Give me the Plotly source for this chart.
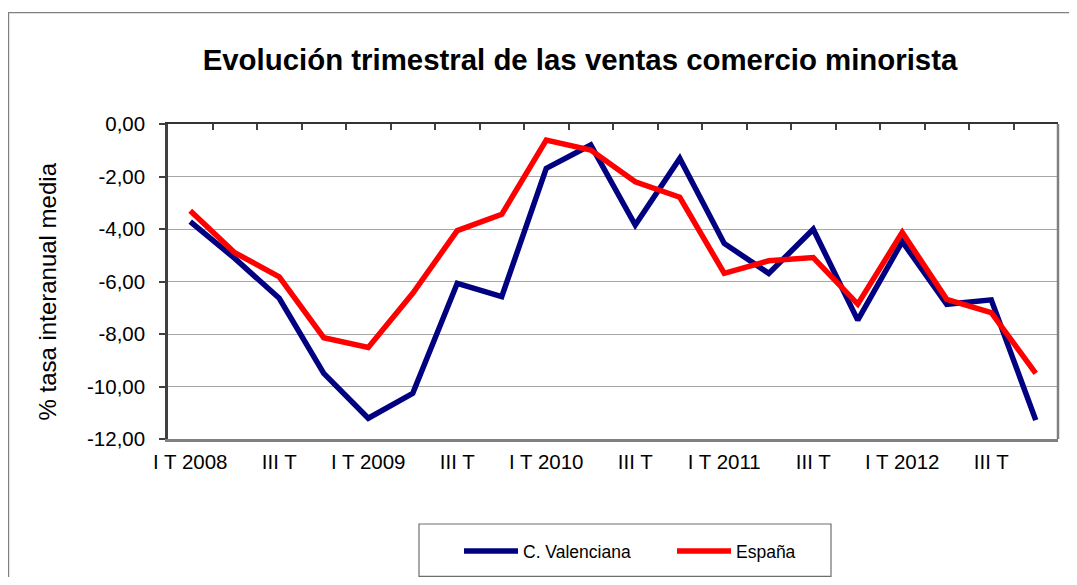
import plotly.graph_objects as go

quarters = ["I T 2008", "II T 2008", "III T 2008", "IV T 2008",
            "I T 2009", "II T 2009", "III T 2009", "IV T 2009",
            "I T 2010", "II T 2010", "III T 2010", "IV T 2010",
            "I T 2011", "II T 2011", "III T 2011", "IV T 2011",
            "I T 2012", "II T 2012", "III T 2012", "IV T 2012"]
tick_labels = ["I T 2008", "III T", "I T 2009", "III T", "I T 2010",
               "III T", "I T 2011", "III T", "I T 2012", "III T"]
y_ticks = [0, -2, -4, -6, -8, -10, -12]
y_tick_labels = ["0,00", "-2,00", "-4,00", "-6,00", "-8,00", "-10,00", "-12,00"]
valenciana = [-3.72, -5.12, -6.64, -9.50, -11.21, -10.26, -6.07, -6.58, -1.69, -0.80,
              -3.85, -1.31, -4.55, -5.69, -4.01, -7.47, -4.48, -6.87, -6.70, -11.28]
espana = [-3.30, -4.90, -5.82, -8.14, -8.51, -6.45, -4.06, -3.44, -0.61, -0.99,
          -2.20, -2.79, -5.69, -5.21, -5.09, -6.86, -4.13, -6.68, -7.19, -9.50]

xpos = list(range(len(quarters)))
font = "Liberation Sans, Arial, sans-serif"

W, H = 1061, 569          # page has 8px body margin
L, R, T, B = 160, 11, 116, 138
PW, PH = W - L - R, H - T - B   # 890 x 315

def px(xp):   # page x -> paper
    return (xp - 8 - L) / PW

def py(yp):   # page y -> paper
    return (H - B - (yp - 8)) / PH

fig = go.Figure()
fig.add_trace(go.Scatter(x=xpos, y=valenciana, mode="lines", name="C. Valenciana",
                         line=dict(color="#000080", width=5.5), text=quarters))
fig.add_trace(go.Scatter(x=xpos, y=espana, mode="lines", name="España",
                         line=dict(color="#ff0000", width=5.5), text=quarters))
# invisible trace for the top tick axis
fig.add_trace(go.Scatter(x=[xpos[0]], y=[espana[0]], xaxis="x2", mode="markers",
                         marker=dict(opacity=0), showlegend=False, hoverinfo="skip"))

xr = [-0.5, len(quarters) - 0.5]
fig.update_layout(
    width=W, height=H,
    margin=dict(l=L, r=R, t=T, b=B, autoexpand=False),
    paper_bgcolor="white", plot_bgcolor="white",
    font=dict(family=font, color="black"),
    showlegend=True,
    legend=dict(orientation="h", x=px(459), y=py(551), xanchor="left", yanchor="middle",
                font=dict(size=17.5, family=font), bgcolor="rgba(0,0,0,0)",
                itemwidth=54, entrywidth=144, entrywidthmode="pixels"),
    xaxis=dict(range=xr, tickmode="array", tickvals=xpos[::2], ticktext=tick_labels,
               ticks="", showgrid=False, zeroline=False, automargin=False,
               showline=True, linecolor="#808080", linewidth=2.5,
               tickfont=dict(size=20.5, family=font), ticklabelstandoff=3),
    xaxis2=dict(range=xr, overlaying="x", side="top", tickmode="array",
                tickvals=[v - 0.5 for v in xpos] + [xpos[-1] + 0.5],
                ticks="inside", ticklen=6, tickcolor="#404040", tickwidth=1.5,
                showticklabels=False, showgrid=False, zeroline=False, automargin=False,
                showline=True, linecolor="#333333", linewidth=2),
    yaxis=dict(range=[-12, 0], tickmode="array", tickvals=y_ticks, ticktext=y_tick_labels,
               showgrid=True, gridcolor="#a6a6a6", gridwidth=1, zeroline=False,
               showline=True, linecolor="#404040", linewidth=2.5, automargin=False,
               ticks="outside", ticklen=6, tickcolor="#404040", tickwidth=1.5,
               tickfont=dict(size=20.5, family=font), ticklabelstandoff=10),
    title=dict(text="<b>Evolución trimestral de las ventas comercio minorista</b>",
               font=dict(size=29.4, family=font, color="black"),
               x=(580 - 8) / W, xref="container", xanchor="center",
               y=1 - (60 - 8) / H, yref="container", yanchor="middle"),
    annotations=[
        dict(text="% tasa interanual media", textangle=-90, showarrow=False,
             xref="paper", yref="paper", x=px(47), y=py(291.5),
             xanchor="center", yanchor="middle",
             font=dict(size=24, family=font, color="black")),
    ],
    shapes=[
        # right border of plot area
        dict(type="line", xref="paper", yref="paper", x0=1, x1=1, y0=0, y1=1,
             line=dict(color="#808080", width=2.5)),
        # legend box
        dict(type="rect", xref="paper", yref="paper",
             x0=px(419), x1=px(831), y0=py(576.3), y1=py(524),
             line=dict(color="#6e6e6e", width=1.2)),
        # outer chart frame
        dict(type="rect", xref="paper", yref="paper",
             x0=px(8.6), x1=1.2, y0=-0.8, y1=py(12.6),
             line=dict(color="#808080", width=1.2)),
    ],
)
fig.write_html("out.html")
